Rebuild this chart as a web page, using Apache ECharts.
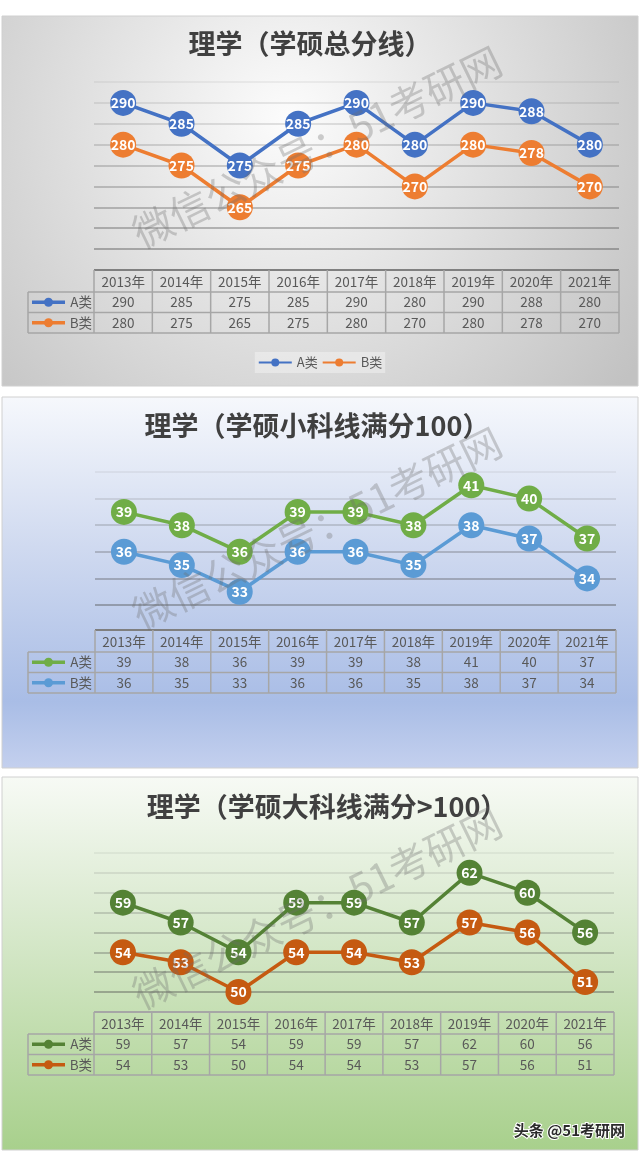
<!DOCTYPE html>
<html>
<head>
<meta charset="utf-8">
<script src="https://cdn.jsdelivr.net/npm/echarts@6/dist/echarts.min.js"></script>
<style>
  html, body { margin: 0; padding: 0; background: #fff; }
  #main { width: 640px; height: 1153px; }
</style>
</head>
<body>
<div id="main"></div>
<script>
// 数据
const years = ['2013年', '2014年', '2015年', '2016年', '2017年', '2018年', '2019年', '2020年', '2021年'];
const rowNames = ['A类', 'B类'];
const totalA = [290, 285, 275, 285, 290, 280, 290, 288, 280];
const totalB = [280, 275, 265, 275, 280, 270, 280, 278, 270];
const smallA = [39, 38, 36, 39, 39, 38, 41, 40, 37];
const smallB = [36, 35, 33, 36, 36, 35, 38, 37, 34];
const bigA = [59, 57, 54, 59, 59, 57, 62, 60, 56];
const bigB = [54, 53, 50, 54, 54, 53, 57, 56, 51];
const titles = ['理学（学硕总分线）', '理学（学硕小科线满分100）', '理学（学硕大科线满分>100）'];
const yMin = [255, 32, 50];
const yMax = [295, 42, 64];
const yStep = [5, 2, 2];
const panelData = [[totalA, totalB], [smallA, smallB], [bigA, bigB]];

// 版式
const font = 'Noto Sans CJK SC';
const panels = [
  { box: [2, 16, 636, 370], grid: [94, 82, 525, 167], titleX: 310, titleY: 47, tableTop: 270,
    colors: ['#4472C4', '#ED7D31'], headLine: '#808080',
    bg: new echarts.graphic.RadialGradient(0.45, 0.28, 1.15, [
      { offset: 0, color: '#fcfcfc' }, { offset: 1, color: '#c2c2c2' }]) },
  { box: [2, 397, 636, 371], grid: [95, 472, 521, 133], titleX: 317, titleY: 429, tableTop: 630,
    colors: ['#70AD47', '#5B9BD5'], headLine: '#7f7f7f',
    bg: new echarts.graphic.LinearGradient(0, 0, 0, 1, [
      { offset: 0, color: '#f6f8fc' }, { offset: 0.4, color: '#d0daf0' },
      { offset: 0.82, color: '#a9bde6' }, { offset: 1, color: '#c4d0ee' }]) },
  { box: [2, 777, 636, 373], grid: [94, 853, 520, 139], titleX: 327, titleY: 810, tableTop: 1012,
    colors: ['#548235', '#C55A11'], headLine: '#a6a6a6',
    bg: new echarts.graphic.LinearGradient(0, 0, 0, 1, [
      { offset: 0, color: '#f7faf5' }, { offset: 0.35, color: '#dcebd2' },
      { offset: 1, color: '#a8d08c' }]) }
];

function lineColors(n) {
  const out = [];
  for (let i = 0; i < n; i++) {
    const a = 0.55 - 0.45 * i / (n - 1);
    out.push('rgba(80,80,80,' + a.toFixed(2) + ')');
  }
  return out;
}

const chart = echarts.init(document.getElementById('main'));

const option = {
  animation: false,
  textStyle: { fontFamily: font },
  title: panels.map((p, i) => ({
    text: titles[i], left: p.titleX, textAlign: 'center', top: p.titleY - 17, padding: 0,
    textStyle: { fontSize: 27, fontWeight: 'bold', color: '#404040', fontFamily: font }
  })),
  legend: {
    data: ['A类', 'B类'], left: 'center', top: 352, padding: [4, 3], itemGap: 4,
    itemWidth: 33, itemHeight: 10, backgroundColor: 'rgba(255,255,255,0.35)',
    textStyle: { color: '#595959', fontSize: 13, fontFamily: font }
  },
  grid: panels.map(p => ({ left: p.grid[0], top: p.grid[1], width: p.grid[2], height: p.grid[3] })),
  xAxis: panels.map((p, i) => ({
    type: 'category', gridIndex: i, data: years, boundaryGap: true,
    axisLine: { show: false }, axisTick: { show: false }, axisLabel: { show: false }
  })),
  yAxis: panels.map((p, i) => {
    const n = (yMax[i] - yMin[i]) / yStep[i] + 1;
    return {
      type: 'value', gridIndex: i, min: yMin[i], max: yMax[i], interval: yStep[i],
      axisLine: { show: false }, axisTick: { show: false }, axisLabel: { show: false },
      splitLine: { lineStyle: { color: lineColors(n), width: 1.5 } }
    };
  }),
  series: []
};

panels.forEach((p, i) => {
  [0, 1].forEach(k => {
    option.series.push({
      name: i === 0 ? rowNames[k] : rowNames[k] + '-' + i,
      type: 'line', xAxisIndex: i, yAxisIndex: i,
      data: panelData[i][k],
      symbol: 'circle', symbolSize: 26,
      lineStyle: { width: 3.5, color: p.colors[k] },
      itemStyle: { color: p.colors[k] },
      label: { show: true, position: 'inside', color: '#fff', fontSize: 14,
        fontWeight: 'bold', fontFamily: font }
    });
  });
});

chart.setOption(option);

// 背景、表格、水印
const g = [];
panels.forEach((p, i) => {
  const [bx, by, bw, bh] = p.box;
  g.push({ type: 'rect', z: -10, shape: { x: bx, y: by, width: bw, height: bh },
    style: { fill: p.bg, stroke: '#d0d0d0', lineWidth: 1 } });

  const xs = years.map(y => chart.convertToPixel({ xAxisIndex: i }, y));
  const cw = xs[1] - xs[0];
  const left = xs[0] - cw / 2, right = xs[xs.length - 1] + cw / 2, labLeft = 28;
  const t0 = p.tableTop, t1 = t0 + 22, t2 = t1 + 20.5, t3 = t2 + 20.5;
  const grey = '#a6a6a6';
  const hl = (x1, x2, y, c, w) => g.push({ type: 'line', z: 5,
    shape: { x1: x1, y1: y, x2: x2, y2: y }, style: { stroke: c, lineWidth: w } });
  const vl = (x, y1, y2) => g.push({ type: 'line', z: 5,
    shape: { x1: x, y1: y1, x2: x, y2: y2 }, style: { stroke: grey, lineWidth: 1.5 } });
  hl(left, right, t0, p.headLine, 2);
  [t1, t2, t3].forEach(y => hl(labLeft, right, y, grey, 1.5));
  vl(labLeft, t1, t3);
  for (let c = 0; c <= years.length; c++) vl(left + c * cw, t0, t3);

  const txt = (x, y, s, align) => g.push({ type: 'text', z: 6, x: x, y: y,
    style: { text: s, fill: '#595959', font: '13.5px "' + font + '"', align: align || 'center',
      verticalAlign: 'middle' } });
  years.forEach((yr, c) => {
    txt(xs[c], (t0 + t1) / 2 + 1, yr);
    txt(xs[c], (t1 + t2) / 2, String(panelData[i][0][c]));
    txt(xs[c], (t2 + t3) / 2, String(panelData[i][1][c]));
  });
  [0, 1].forEach(k => {
    const cy = k === 0 ? (t1 + t2) / 2 : (t2 + t3) / 2;
    g.push({ type: 'line', z: 6, shape: { x1: 32, y1: cy, x2: 65, y2: cy },
      style: { stroke: p.colors[k], lineWidth: 3.5 } });
    g.push({ type: 'circle', z: 6, shape: { cx: 48.5, cy: cy, r: 4.5 },
      style: { fill: p.colors[k] } });
    txt(92, cy, rowNames[k], 'right');
  });

  g.push({ type: 'text', z: 100, x: 317, y: by + 131, rotation: Math.PI * 26 / 180,
    style: { text: '微信公众号：51考研网', fill: 'rgba(110,110,110,0.32)',
      font: '40px "' + font + '"', align: 'center', verticalAlign: 'middle' } });
});

g.push({ type: 'text', z: 100, x: 625, y: 1130,
  style: { text: '头条 @51考研网', fill: '#2a2a2a', font: 'bold 15px "' + font + '"',
    align: 'right', verticalAlign: 'middle', stroke: '#ffffff', lineWidth: 2 } });

chart.setOption({ graphic: g });
</script>
</body>
</html>
